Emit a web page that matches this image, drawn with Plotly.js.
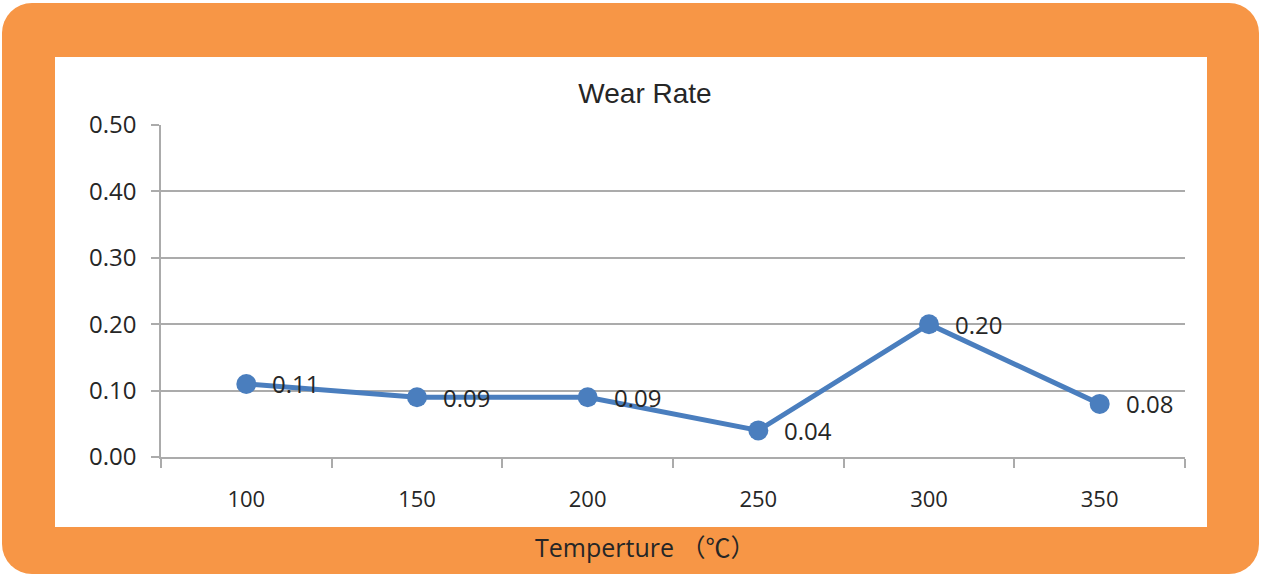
<!DOCTYPE html>
<html>
<head>
<meta charset="utf-8">
<script src="https://cdn.plot.ly/plotly-3.0.1.min.js"></script>
<style>
  html, body { margin: 0; padding: 0; background: #ffffff; }
  #wrap { position: relative; width: 1261px; height: 575px; overflow: hidden; }
  #frame { position: absolute; left: 2px; top: 3px; width: 1257px; height: 571px; background: #F79646; border-radius: 30px; }
  #inner { position: absolute; left: 55px; top: 57px; width: 1152px; height: 470px; background: #ffffff; }
  #chart { position: absolute; left: 0; top: 0; width: 1261px; height: 575px; }
</style>
</head>
<body>
<div id="wrap">
  <div id="frame"></div>
  <div id="inner"></div>
  <div id="chart"></div>
</div>
<script>
// ---- data ----
const categories = ['100', '150', '200', '250', '300', '350'];
const wearRate = [0.11, 0.09, 0.09, 0.04, 0.20, 0.08];
const yTickVals = [0, 0.1, 0.2, 0.3, 0.4, 0.5];
const yTickText = ['0.00', '0.10', '0.20', '0.30', '0.40', '0.50'];
const chartTitle = 'Wear Rate';
const xTitle = 'Temperture （℃）';

const textColor = '#262626';
const gridColor = '#ABABAB';
const lineColor = '#4A7EBE';

const trace = {
  type: 'scatter',
  mode: 'lines+markers',
  x: categories,
  y: wearRate,
  line: { color: lineColor, width: 5 },
  marker: { color: lineColor, size: 20 },
  hoverinfo: 'x+y',
  showlegend: false
};

// data labels: on a category axis annotations use the category index
const annotations = categories.map((c, i) => ({
  x: i, y: wearRate[i], xref: 'x', yref: 'y',
  text: wearRate[i].toFixed(2),
  showarrow: false, xanchor: 'left', yanchor: 'middle',
  xshift: 24,
  font: { family: 'Open Sans, sans-serif', size: 24, color: textColor }
}));

// x-axis title placed in orange band
annotations.push({
  xref: 'paper', yref: 'paper',
  x: (645 - 161) / (1185 - 161), y: -(548 - 457.5) / (457.5 - 125),
  text: xTitle, showarrow: false, xanchor: 'center', yanchor: 'middle',
  font: { family: 'Open Sans, Noto Sans CJK SC, sans-serif', size: 25, color: textColor }
});

const layout = {
  width: 1261, height: 575,
  paper_bgcolor: 'rgba(0,0,0,0)',
  plot_bgcolor: 'rgba(0,0,0,0)',
  margin: { l: 161, r: 76, t: 125, b: 117.5, pad: 0 },
  title: {
    text: chartTitle,
    xref: 'container', yref: 'container',
    x: 645 / 1261, y: 1 - 93 / 575,
    xanchor: 'center', yanchor: 'middle',
    font: { family: 'Liberation Sans, Arial, sans-serif', size: 28, color: textColor }
  },
  xaxis: {
    type: 'category',
    categoryorder: 'array', categoryarray: categories,
    range: [-0.5, categories.length - 0.5],
    tickson: 'boundaries',
    ticks: 'outside', ticklen: 9, tickwidth: 1.5, tickcolor: gridColor,
    showline: true, linecolor: gridColor, linewidth: 1.5,
    showgrid: false, zeroline: false,
    tickangle: 0,
    ticklabelstandoff: 22,
    tickfont: { family: 'Open Sans, sans-serif', size: 22, color: textColor },
    fixedrange: true
  },
  yaxis: {
    range: [0, 0.5],
    tickvals: yTickVals, ticktext: yTickText,
    ticks: 'outside', ticklen: 8, tickwidth: 1.5, tickcolor: gridColor,
    showline: true, linecolor: gridColor, linewidth: 1.5,
    showgrid: true, gridcolor: gridColor, gridwidth: 1.5,
    zeroline: false,
    ticklabelstandoff: 10,
    tickfont: { family: 'Open Sans, sans-serif', size: 24, color: textColor },
    fixedrange: true
  },
  annotations: annotations
};

Plotly.newPlot('chart', [trace], layout, { displayModeBar: false });
</script>
</body>
</html>
